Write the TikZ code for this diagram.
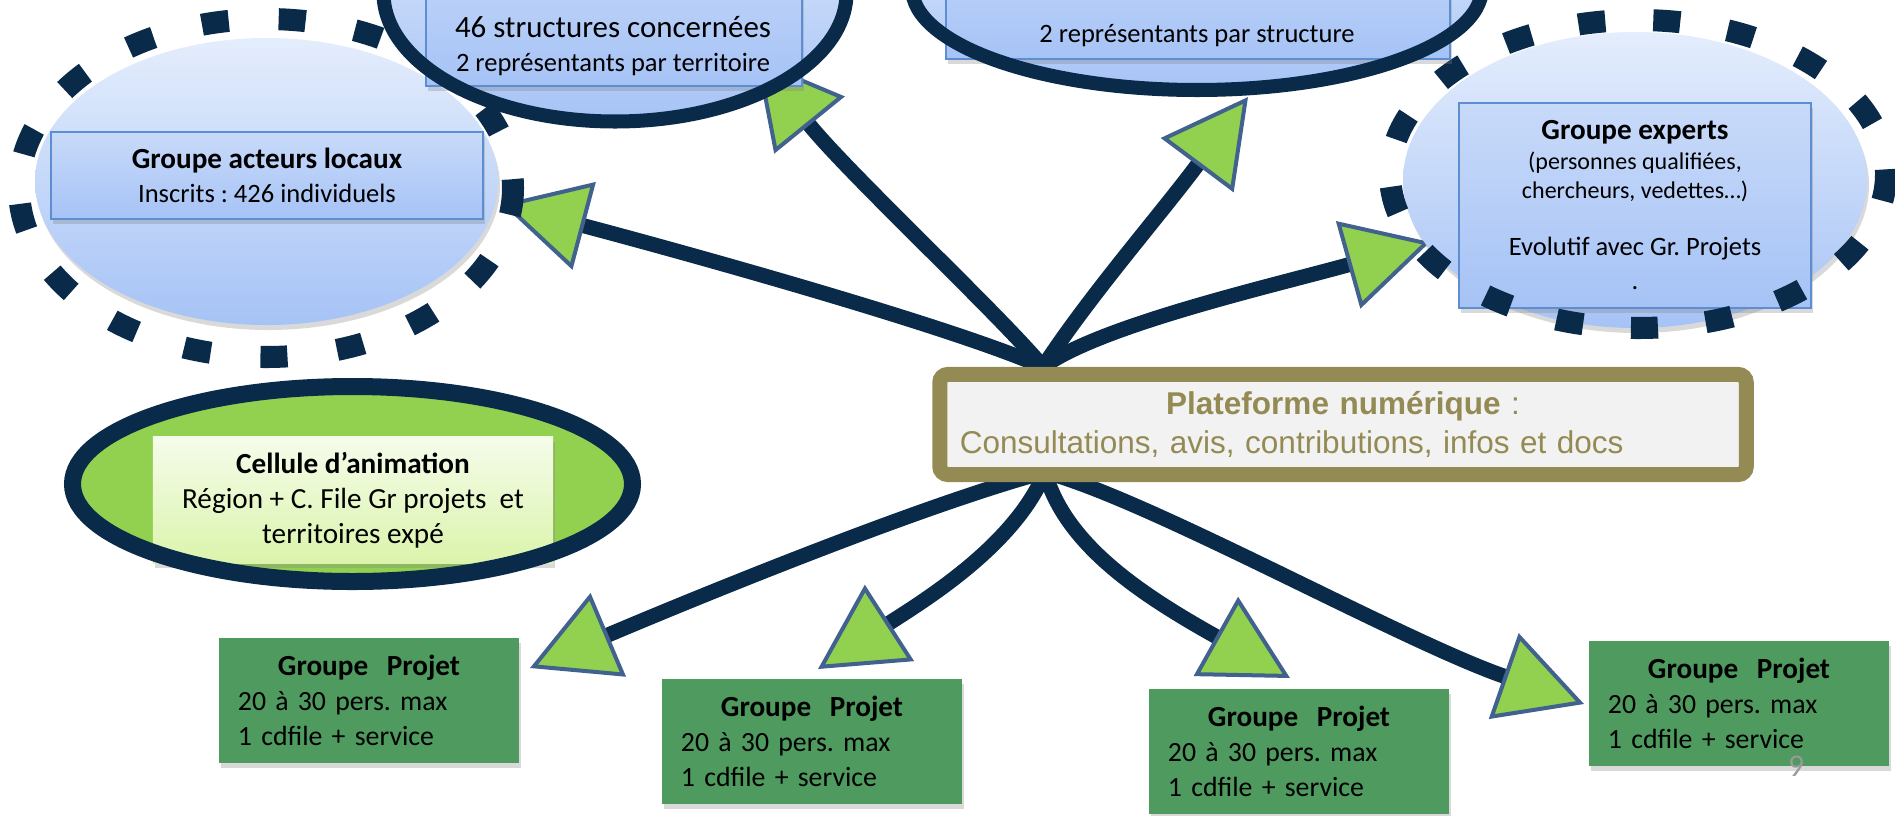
\documentclass[tikz,border=0pt]{standalone}
\usepackage{fontspec}
\setmainfont{Carlito}
\newfontfamily\arialfont{Liberation Sans}
\usetikzlibrary{arrows.meta,shadows}
\frenchspacing

\definecolor{marine}{HTML}{0A2A4A}
\definecolor{pomme}{HTML}{92D050}
\definecolor{bordfleche}{HTML}{41618E}
\definecolor{ciel}{HTML}{E4EDFC}
\definecolor{azur}{HTML}{A6C3F6}
\definecolor{bleuboite}{HTML}{C8DAF9}
\definecolor{bleutrait}{HTML}{5E8ED2}
\definecolor{vertprojet}{HTML}{4E9A5F}
\definecolor{olive}{HTML}{948A54}
\definecolor{grisfond}{HTML}{F2F2F2}
\definecolor{vertpale}{HTML}{F5FCEA}
\definecolor{vertanis}{HTML}{DBF4AC}

\tikzset{
  lien/.style={draw=marine, line width=0.15cm,
    -{Triangle[length=0.85cm, width=0.9cm, fill=pomme, color=bordfleche, line width=0.04cm]}},
  ombre/.style={drop shadow={opacity=0.3, shadow xshift=0.02cm, shadow yshift=-0.05cm}},
  bulle/.style={top color=ciel, bottom color=azur, ombre},
  anneau/.style={draw=marine, line width=0.14cm},
  pointille/.style={draw=marine, line width=0.22cm, dash pattern=on 0.27cm off 0.5cm},
  boite/.style={draw=bleutrait, line width=0.02cm, top color=bleuboite, bottom color=azur,
    inner sep=0pt, align=center, ombre},
  projet/.style={fill=vertprojet, minimum width=3cm, minimum height=1.25cm, text width=2.62cm,
    align=left, inner sep=0pt, font=\fontsize{7.9}{9.96}\selectfont, ombre},
}

\begin{document}
\begin{tikzpicture}[x=0.01cm, y=-0.01cm]
    \useasboundingbox (0,0) rectangle (1895,815);
    \clip (0,0) rectangle (1895,815);
    % depart et arrivee des liens
    \coordinate (hautpla) at (1043,367);
    \coordinate (baspla) at (1045,472);
    \coordinate (pacteurs) at (502,204);
    \coordinate (pstruct) at (756,59);
    \coordinate (prepr) at (1248,97);
    \coordinate (pexperts) at (1430,242);
    \coordinate (pprojet1) at (530,668);
    \coordinate (pprojet2) at (818,669);
    \coordinate (pprojet3) at (1290,678);
    \coordinate (pprojet4) at (1584,704);
    \draw[lien] (hautpla) .. controls (960,330) and (720,262) .. (pacteurs);
    \draw[lien] (hautpla) .. controls (1000,315) and (850,175) .. (pstruct);
    \draw[lien] (hautpla) .. controls (1090,295) and (1160,215) .. (prepr);
    \draw[lien] (hautpla) .. controls (1100,325) and (1276,285) .. (pexperts);
    \draw[lien] (baspla) .. controls (925,504) and (700,596) .. (pprojet1);
    \draw[lien] (baspla) .. controls (1015,545) and (925,600) .. (pprojet2);
    \draw[lien] (baspla) .. controls (1065,545) and (1142,595) .. (pprojet3);
    \draw[lien] (baspla) .. controls (1150,500) and (1400,640) .. (pprojet4);
    % groupe acteurs locaux
    \path[bulle] (266.5,181.5) ellipse [x radius=231.5, y radius=143.5];
    \node[boite, minimum width=4.31cm, minimum height=0.87cm, font=\fontsize{7.54}{9.7}\selectfont] (acteurs) at (267,175.5)
        {{\fontsize{8.3}{9.7}\selectfont\bfseries Groupe acteurs locaux}\\ Inscrits : 426 individuels};
    \draw[pointille] (266,188) ellipse [x radius=247, y radius=169];
    % groupe experts
    \path[bulle] (1635,180) ellipse [x radius=232, y radius=148];
    \node[boite, minimum width=3.52cm, minimum height=2.05cm, font=\fontsize{6.83}{8.25}\selectfont] (experts) at (1635,205.5)
        {{\fontsize{8.3}{8.25}\selectfont\bfseries Groupe experts}\\[0.25pt] (personnes qualifiées,\\ chercheurs, vedettes…)\\[7.95pt]
        {\fontsize{7.54}{8.25}\selectfont Evolutif avec Gr. Projets}\\[1.45pt] {\fontsize{7.54}{8.25}\selectfont .}};
    \draw[pointille, dash pattern=on 0.27cm off 0.48cm] (1638,174) ellipse [x radius=248, y radius=154];
    % structures
    \path[bulle] (615,-7) ellipse [x radius=231.5, y radius=128.5];
    \node[boite, anchor=south, minimum width=3.76cm, minimum height=1.6cm] (boitestruct) at (614,87) {};
    \node[font=\fontsize{7.54}{9.5}\selectfont, align=center, inner sep=0pt] (structures) at (613,46)
        {{\fontsize{8.8}{9.5}\selectfont 46 structures concernées}\\ 2 représentants par territoire};
    \draw[anneau] (615,-7) ellipse [x radius=231.5, y radius=128.5];
    \path[bulle] (1197,-12) ellipse [x radius=285, y radius=102];
    \node[boite, anchor=south, minimum width=5.04cm, minimum height=1.4cm] (boiterepr) at (1198,60) {};
    \node[font=\fontsize{7.54}{9.5}\selectfont, inner sep=0pt] (representants) at (1197,36) {2 représentants par structure};
    \draw[anneau] (1197,-12) ellipse [x radius=285, y radius=102];
    % cellule d'animation
    \fill[pomme] (352.5,484) ellipse [x radius=280, y radius=97.5];
    \node[top color=vertpale, bottom color=vertanis, ombre, minimum width=4cm, minimum height=1.26cm, inner sep=0pt,
        align=center, font=\fontsize{8.3}{9.96}\selectfont] (cellule) at (353,500)
        {\textbf{Cellule d’animation}\\ Région + C. File Gr projets\ \ et\\ territoires expé};
    \draw[anneau, line width=0.17cm] (352.5,484) ellipse [x radius=280, y radius=97.5];
    % plateforme
    \node[draw=olive, line width=0.15cm, fill=grisfond, rounded corners=0.08cm, minimum width=8.06cm, minimum height=1cm,
        text width=7.66cm, align=left, inner sep=0pt, text=olive, font=\arialfont\fontsize{8.96}{10.9}\selectfont, ombre] (plat) at (1343,424.5)
        {\hfill\textbf{Plateforme numérique} :\hfill\null\\ Consultations, avis, contributions, infos et docs};
    % groupes projet
    \node[projet] (projet1) at (369,700.5) {\hfill{\fontsize{8.3}{9.96}\selectfont\bfseries Groupe\ \ Projet}\hfill\null\\ 20 à 30 pers. max\\ 1 cdfile + service};
    \node[projet] (projet2) at (812,741.5) {\hfill{\fontsize{8.3}{9.96}\selectfont\bfseries Groupe\ \ Projet}\hfill\null\\ 20 à 30 pers. max\\ 1 cdfile + service};
    \node[projet] (projet3) at (1299,751.5) {\hfill{\fontsize{8.3}{9.96}\selectfont\bfseries Groupe\ \ Projet}\hfill\null\\ 20 à 30 pers. max\\ 1 cdfile + service};
    \node[projet] (projet4) at (1739,703.5) {\hfill{\fontsize{8.3}{9.96}\selectfont\bfseries Groupe\ \ Projet}\hfill\null\\ 20 à 30 pers. max\\ 1 cdfile + service};
    \node[text=black!40, font=\fontsize{9}{10}\selectfont, inner sep=0pt] (numero) at (1796,766) {9};
\end{tikzpicture}
\end{document}
